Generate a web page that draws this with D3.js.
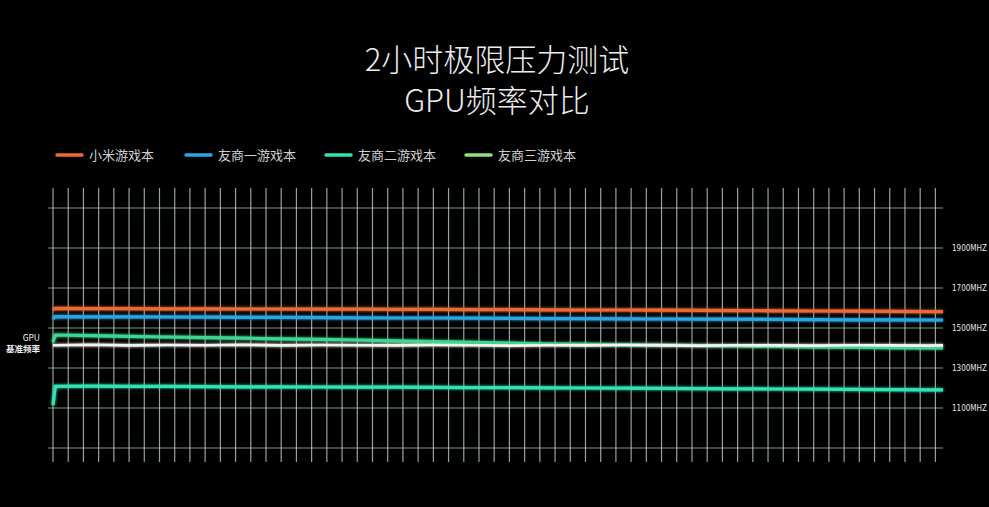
<!DOCTYPE html>
<html>
<head>
<meta charset="utf-8">
<script src="https://cdn.jsdelivr.net/npm/d3@7"></script>
<style>
  html, body { margin: 0; padding: 0; background: #000; }
  svg { display: block; font-family: "Noto Sans CJK SC", "Noto Sans", sans-serif; }
</style>
</head>
<body>
<svg id="chart"></svg>
<script>
// sample times in minutes (2 hour run)
const times = [0, 0.3, 5, 10, 15, 20, 25, 30, 35, 40, 45, 50, 55, 60, 65, 70, 75, 80, 85, 90, 95, 100, 105, 110, 115, 117];

const xiaomi = [1590, 1598, 1597, 1597, 1596, 1596, 1595, 1595, 1594, 1594, 1593, 1593, 1592, 1592, 1591, 1590, 1590, 1589, 1588, 1587, 1586, 1585, 1584, 1583, 1582, 1582];
const rival1 = [1545, 1557, 1556, 1556, 1555, 1554, 1553, 1553, 1552, 1551, 1550, 1550, 1549, 1548, 1547, 1547, 1546, 1545, 1544, 1544, 1543, 1542, 1541, 1541, 1540, 1540];
const rival2 = [1115, 1208, 1209, 1208, 1208, 1207, 1206, 1206, 1205, 1204, 1204, 1203, 1202, 1202, 1201, 1200, 1199, 1198, 1197, 1196, 1195, 1194, 1193, 1192, 1191, 1191];
const rival3 = [1430, 1465, 1462, 1458, 1455, 1452, 1449, 1446, 1443, 1440, 1436, 1432, 1428, 1424, 1420, 1418, 1416, 1414, 1412, 1410, 1408, 1406, 1404, 1402, 1401, 1400];
const baseline = [1414, 1414, 1416, 1413, 1415, 1414, 1416, 1413, 1415, 1414, 1413, 1415, 1414, 1412, 1414, 1413, 1415, 1413, 1412, 1414, 1413, 1412, 1414, 1413, 1412, 1413];

const seriesNames = ['小米游戏本', '友商一游戏本', '友商二游戏本', '友商三游戏本'];
const seriesColors = ['#ee6a35', '#2ba6e2', '#33e2b4', '#8ee47a'];
const lineColors = ['#ee6a35', '#2ba6e2', '#33e2b4', '#3cd890'];

const gridTicks = [900, 1100, 1300, 1500, 1700, 1900, 2100];
const labelTicks = [1100, 1300, 1500, 1700, 1900];
const titleLines = ['2小时极限压力测试', 'GPU频率对比'];

const W = 989, H = 507;
const svg = d3.select('#chart').attr('width', W).attr('height', H);

svg.append('rect').attr('width', W).attr('height', H).attr('fill', '#000');

const defs = svg.append('defs');
const glow = defs.append('filter').attr('id', 'glow')
  .attr('x', '-5%').attr('y', '-50%').attr('width', '110%').attr('height', '200%');
glow.append('feGaussianBlur').attr('stdDeviation', 1.6).attr('result', 'b');
const merge = glow.append('feMerge');
merge.append('feMergeNode').attr('in', 'b');
merge.append('feMergeNode').attr('in', 'SourceGraphic');

const x = d3.scaleLinear().domain([0, 117]).range([53, 943]);
const y = d3.scaleLinear().domain([900, 2100]).range([448, 208]);

// title
svg.selectAll('.title')
  .data(titleLines)
  .join('text')
  .attr('class', 'title')
  .attr('x', 497)
  .attr('y', (d, i) => 71 + i * 41)
  .attr('text-anchor', 'middle')
  .attr('fill', '#ececec')
  .attr('font-size', 31)
  .attr('font-weight', 300)
  .text(d => d);

// legend
const legendX = [57, 186, 326, 466];
const legend = svg.selectAll('.legend')
  .data(seriesNames)
  .join('g')
  .attr('class', 'legend')
  .attr('transform', (d, i) => `translate(${legendX[i]}, 155)`);
legend.append('line')
  .attr('x1', 0).attr('x2', 25)
  .attr('stroke', (d, i) => seriesColors[i])
  .attr('stroke-width', 3.5)
  .attr('stroke-linecap', 'round');
legend.append('text')
  .attr('x', 32).attr('y', 4.5)
  .attr('fill', '#cfcfcf')
  .attr('font-size', 13)
  .text(d => d);

// grid
const grid = svg.append('g').attr('class', 'grid');
grid.selectAll('.h')
  .data(gridTicks)
  .join('line')
  .attr('x1', 48).attr('x2', 943)
  .attr('y1', d => y(d)).attr('y2', d => y(d))
  .attr('stroke', '#b9d2c2')
  .attr('stroke-opacity', 0.7)
  .attr('stroke-width', 1);
grid.selectAll('.v')
  .data(d3.range(0, 117, 2))
  .join('line')
  .attr('x1', d => x(d)).attr('x2', d => x(d))
  .attr('y1', 188).attr('y2', 462)
  .attr('stroke', '#c4dccd')
  .attr('stroke-opacity', 0.75)
  .attr('stroke-width', 1.2);

// right labels
const yAxis = svg.append('g')
  .attr('transform', 'translate(952, 0)')
  .call(d3.axisRight(y).tickValues(labelTicks).tickSize(0).tickPadding(0).tickFormat(d => d + 'MHZ'));
yAxis.select('.domain').remove();
yAxis.selectAll('text')
  .attr('fill', '#e6e6e6')
  .attr('font-size', 8)
  .attr('font-family', '"Liberation Sans Narrow", "DejaVu Sans Condensed", sans-serif');

// baseline label
svg.append('text')
  .attr('x', 40).attr('y', 341)
  .attr('text-anchor', 'end')
  .attr('fill', '#f2f2f2').attr('font-size', 8.5)
  .text('GPU');
svg.append('text')
  .attr('x', 40).attr('y', 352)
  .attr('text-anchor', 'end')
  .attr('fill', '#f2f2f2').attr('font-size', 8.5).attr('font-weight', 'bold')
  .text('基准频率');

// series lines
const line = d3.line()
  .x((d, i) => x(times[i]))
  .y(d => y(d));

const plotted = [xiaomi, rival1, rival2, rival3];
const lines = svg.append('g').attr('filter', 'url(#glow)');
lines.selectAll('.series')
  .data(plotted)
  .join('path')
  .attr('class', 'series')
  .attr('d', line)
  .attr('fill', 'none')
  .attr('stroke', (d, i) => lineColors[i])
  .attr('stroke-width', 3.2);

lines.append('path')
  .datum(baseline)
  .attr('d', line)
  .attr('fill', 'none')
  .attr('stroke', '#f4f4f0')
  .attr('stroke-width', 2.6);
</script>
</body>
</html>
